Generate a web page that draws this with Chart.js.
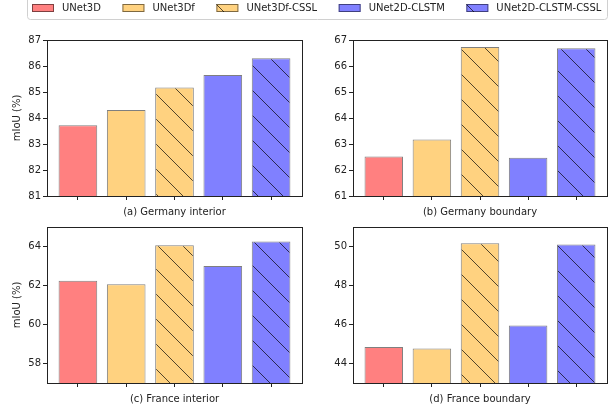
<!DOCTYPE html>
<html>
<head>
<meta charset="utf-8">
<script src="https://cdn.jsdelivr.net/npm/chart.js@4.4.0/dist/chart.umd.min.js"></script>
<style>
  body { margin: 0; background: #fff; }
  .lienzo { position: relative; width: 615px; height: 410px; }
  .lienzo canvas { position: absolute; left: 0; top: 0; }
</style>
</head>
<body>
<div class="lienzo">
  <canvas id="canvas1" width="615" height="410"></canvas>
  <canvas id="canvas2" width="615" height="410"></canvas>
  <canvas id="canvas3" width="615" height="410"></canvas>
  <canvas id="canvas4" width="615" height="410"></canvas>
</div>
<script>
  // datos
  const modelos = ['UNet3D', 'UNet3Df', 'UNet3Df-CSSL', 'UNet2D-CLSTM', 'UNet2D-CLSTM-CSSL'];
  const germanyInterior = [83.72, 84.31, 85.17, 85.65, 86.30];
  const germanyBoundary = [62.52, 63.17, 66.73, 62.47, 66.68];
  const franceInterior  = [62.25, 62.06, 64.07, 63.00, 64.26];
  const franceBoundary  = [44.84, 44.77, 50.17, 45.95, 50.10];
  const ticksGI = [81, 82, 83, 84, 85, 86, 87];
  const ticksGB = [61, 62, 63, 64, 65, 66, 67];
  const ticksFI = [58, 60, 62, 64];
  const ticksFB = [44, 46, 48, 50];
  const titulos = ['(a) Germany interior', '(b) Germany boundary', '(c) France interior', '(d) France boundary'];

  const coloresBase = ['#ff8080', '#ffd280', '#ffd280', '#8080ff', '#8080ff'];
  const conRayas = [false, false, true, false, true];
  const colorBorde = 'rgba(0,0,0,0.5)';

  Chart.defaults.font.family = '"DejaVu Sans", sans-serif';
  Chart.defaults.font.size = 10;
  Chart.defaults.color = '#222';

  // patron de rayas "\" como el hatch de matplotlib
  function rayado(color) {
    const c = document.createElement('canvas');
    c.width = 25; c.height = 25;
    const g = c.getContext('2d');
    g.fillStyle = color;
    g.fillRect(0, 0, 25, 25);
    g.strokeStyle = 'rgba(0,0,0,0.68)';
    g.lineWidth = 1;
    g.beginPath();
    g.moveTo(12, 0);  g.lineTo(37, 25);
    g.moveTo(-13, 0); g.lineTo(12, 25);
    g.stroke();
    return g.createPattern(c, 'repeat');
  }
  const rellenos = coloresBase.map((c, i) => conRayas[i] ? rayado(c) : c);

  // marco de los ejes (4 lados)
  const marco = {
    id: 'marco',
    afterDatasetsDraw(chart) {
      const {ctx, chartArea: a} = chart;
      ctx.save();
      ctx.strokeStyle = '#222';
      ctx.lineWidth = 1;
      ctx.strokeRect(Math.round(a.left) + 0.5, Math.round(a.top) + 0.5,
                     Math.round(a.right - a.left), Math.round(a.bottom - a.top));
      ctx.restore();
    }
  };

  // leyenda comun arriba
  const leyenda = {
    id: 'leyenda',
    afterDraw(chart) {
      const ctx = chart.ctx;
      ctx.save();
      ctx.font = '10px "DejaVu Sans"';
      ctx.beginPath();
      ctx.roundRect(27.5, -5.5, 580, 25, 3);
      ctx.fillStyle = 'rgba(255,255,255,0.8)';
      ctx.fill();
      ctx.strokeStyle = '#d0d0d0';
      ctx.lineWidth = 1;
      ctx.stroke();
      let x = 32;
      modelos.forEach((m, i) => {
        ctx.fillStyle = rellenos[i];
        ctx.fillRect(x, 4, 22, 8);
        ctx.strokeStyle = colorBorde;
        ctx.strokeRect(x + 0.5, 4.5, 21, 7);
        ctx.fillStyle = '#222';
        ctx.textBaseline = 'middle';
        ctx.textAlign = 'left';
        ctx.fillText(m, x + 30, 8.5);
        x += 30 + ctx.measureText(m).width + 21.5;
      });
      ctx.restore();
    }
  };

  function grafica(id, valores, yMin, yMax, marcas, titulo, conEtiqueta, area, extras) {
    return new Chart(document.getElementById(id), {
      type: 'bar',
      data: {
        datasets: [{
          data: valores.map((v, i) => ({x: i, y: v})),
          backgroundColor: rellenos,
          borderColor: colorBorde,
          borderWidth: 1,
          borderSkipped: false,
          barPercentage: 0.8,
          categoryPercentage: 1
        }]
      },
      options: {
        responsive: false,
        animation: false,
        layout: {
          padding: {
            left: area.left - 47,
            top: area.top,
            right: 615 - area.right,
            bottom: 410 - area.bottom - 24
          }
        },
        plugins: {
          legend: {display: false},
          tooltip: {enabled: false}
        },
        scales: {
          x: {
            type: 'linear',
            min: -0.64,
            max: 4.64,
            offset: false,
            bounds: 'data',
            grid: {display: true, offset: false, drawOnChartArea: false, drawTicks: true, tickLength: 4, color: '#222'},
            border: {display: false},
            ticks: {display: false},
            afterBuildTicks: s => { s.ticks = modelos.map((m, i) => ({value: i})); },
            afterFit: s => { s.height = 24; },
            title: {display: true, text: titulo, color: '#222', padding: {top: 0, bottom: 2}}
          },
          y: {
            min: yMin,
            max: yMax,
            grid: {display: true, drawOnChartArea: false, drawTicks: true, tickLength: 4, color: '#222'},
            border: {display: false},
            ticks: {color: '#222', padding: 2},
            afterBuildTicks: s => { s.ticks = marcas.map(v => ({value: v})); },
            afterFit: s => { s.width = 47; },
            title: {display: conEtiqueta, text: 'mIoU (%)', color: '#222', padding: {top: 11.5, bottom: 0}}
          }
        }
      },
      plugins: [marco].concat(extras || [])
    });
  }

  grafica('canvas1', germanyInterior, 81, 87, ticksGI, titulos[0], true,  {left: 47,  top: 40,  right: 302, bottom: 196}, [leyenda]);
  grafica('canvas2', germanyBoundary, 61, 67, ticksGB, titulos[1], false, {left: 353, top: 40,  right: 607, bottom: 196});
  grafica('canvas3', franceInterior,  57, 65, ticksFI, titulos[2], true,  {left: 47,  top: 227, right: 302, bottom: 383});
  grafica('canvas4', franceBoundary,  43, 51, ticksFB, titulos[3], false, {left: 353, top: 227, right: 607, bottom: 383});
</script>
</body>
</html>
